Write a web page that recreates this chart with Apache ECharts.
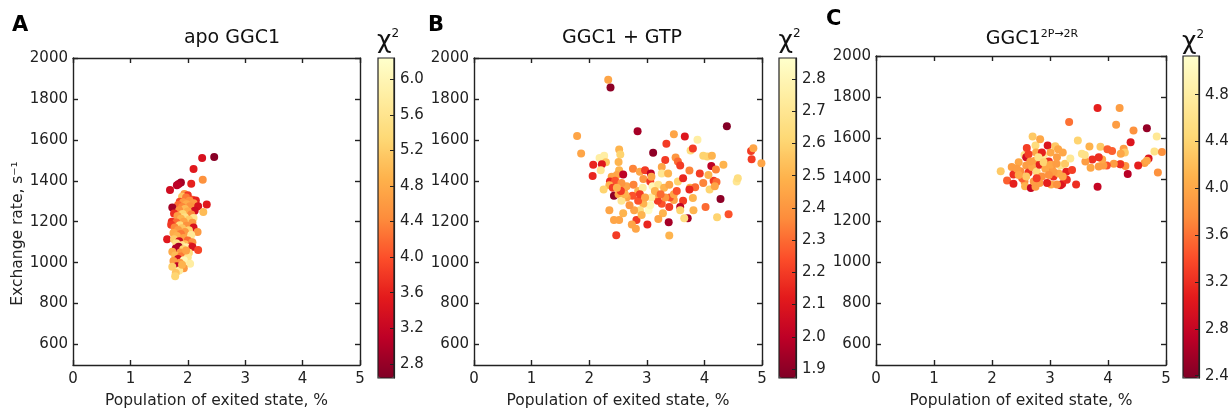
<!DOCTYPE html>
<html><head><meta charset="utf-8">
<script src="https://cdn.jsdelivr.net/npm/echarts@6/dist/echarts.min.js"></script>
<style>html,body{margin:0;padding:0;background:#fff}#c{width:1232px;height:414px}</style>
</head><body><div id="c"></div>
<script>
const xTickValues = [0, 1, 2, 3, 4, 5];
const yTickValues = [600, 800, 1000, 1200, 1400, 1600, 1800, 2000];

// [population %, exchange rate s^-1, chi^2]
const apoPoints = [
[2.46,1516,2.7],[2.25,1512,3.4],[2.10,1458,3.5],[2.26,1405,4.5],[2.06,1386,3.6],[1.88,1392,2.9],[1.84,1384,3.0],[1.81,1378,3.1],[1.69,1355,3.3],
[1.94,1335,4.6],[2.00,1330,3.8],[1.90,1322,5.1],[1.97,1318,4.3],[2.08,1308,4.0],[2.14,1304,3.6],[2.03,1302,4.5],[1.86,1298,3.9],[1.92,1295,4.6],[2.10,1290,4.6],[2.33,1284,3.5],[1.98,1285,4.8],[1.83,1282,4.2],[2.18,1276,3.4],[2.04,1276,4.5],[1.73,1269,2.9],[1.90,1272,4.4],[1.95,1262,5.0],[2.12,1254,3.3],[1.85,1256,4.5],[2.27,1247,5.0],[2.00,1250,4.8],[1.76,1240,3.7],[1.91,1238,5.3],[2.06,1235,4.4],
[1.82,1228,4.6],[1.95,1222,5.5],[2.10,1218,5.6],[1.88,1215,4.9],[2.02,1210,5.2],[1.72,1200,3.7],[1.80,1196,4.2],[1.93,1200,4.7],[2.08,1195,4.6],[1.71,1185,3.8],[1.86,1183,5.4],[1.98,1180,4.5],[2.10,1172,3.4],[1.77,1172,4.4],[1.90,1168,5.1],[2.17,1150,4.6],[1.83,1160,4.6],[2.02,1158,5.3],[1.95,1150,4.6],[1.75,1145,4.8],[1.88,1140,4.3],[2.06,1135,5.7],[1.81,1130,4.9],
[1.64,1114,3.5],[1.93,1120,4.7],[1.76,1115,5.2],[2.00,1108,4.2],[1.85,1105,3.3],[2.08,1100,4.5],[1.80,1095,5.5],[1.95,1090,5.0],[1.89,1085,5.6],[2.05,1080,3.8],[1.84,1078,2.9],[1.98,1075,5.9],[2.08,1077,3.4],[1.79,1069,3.0],[1.92,1065,5.3],[2.18,1062,3.9],[1.73,1053,4.8],[1.87,1050,4.6],[2.02,1048,5.4],[1.95,1040,4.5],
[1.78,1035,5.0],[1.88,1030,4.3],[2.00,1025,5.6],[1.83,1018,3.3],[1.93,1012,6.0],[1.75,1008,4.6],[1.86,1000,4.6],[2.04,995,5.8],[1.81,983,3.1],[1.73,980,5.2],[1.93,973,4.6],[1.85,962,5.7],[1.79,950,5.1],[1.78,934,5.3],[1.90,990,4.9],[1.97,1060,4.7]
];

const gtpPoints = [
[2.33,1894,2.45],[2.37,1856,1.9],[1.79,1619,2.45],[1.86,1533,2.45],[2.84,1642,1.95],[3.11,1537,1.9],[4.39,1667,1.88],[3.47,1627,2.45],[3.66,1616,2.1],[3.88,1600,2.75],[3.34,1581,2.2],[3.76,1548,2.65],[3.80,1558,2.2],
[2.52,1553,2.5],[2.54,1528,2.6],[2.18,1512,2.75],[2.26,1522,2.75],[2.29,1491,2.55],[2.51,1492,2.5],[2.07,1478,2.15],[2.22,1481,2.1],[2.20,1452,2.7],[2.06,1423,2.15],[3.32,1502,2.2],[3.50,1514,2.4],[3.54,1494,2.3],[3.58,1475,2.2],[3.98,1522,2.6],[4.05,1519,2.6],[4.12,1472,2.0],[4.33,1478,2.5],[4.20,1455,2.35],[3.92,1436,2.2],[3.74,1450,2.35],[3.26,1467,2.45],
[2.76,1459,2.35],[2.88,1444,2.45],[2.97,1452,2.2],[3.07,1436,2.0],[3.26,1436,2.7],[3.37,1436,2.5],[2.52,1452,2.5],[2.48,1428,2.45],[2.59,1431,2.0],[2.39,1420,2.45],[2.36,1397,2.15],[2.45,1400,2.25],[2.35,1378,2.5],[2.25,1358,2.6],[2.41,1366,2.2],[2.43,1327,1.9],[2.51,1334,2.45],[2.60,1358,2.3],[2.65,1373,2.45],[2.77,1381,2.35],[2.85,1350,2.5],[2.94,1409,2.4],[2.93,1366,2.75],[3.06,1397,2.2],[3.08,1420,2.45],[3.10,1373,2.8],[3.20,1381,2.7],[3.30,1366,2.5],[3.39,1381,2.45],[3.54,1397,2.6],[3.63,1412,2.15],[3.75,1366,2.5],[3.84,1369,2.3],[4.09,1358,2.6],[4.16,1400,2.2],[4.21,1394,2.3],[4.18,1373,2.45],[4.56,1397,2.7],[4.58,1413,2.65],
[4.81,1545,2.2],[4.85,1559,2.45],[4.82,1505,2.2],[4.99,1486,2.45],[4.28,1311,1.9],[4.42,1237,2.25],[4.22,1222,2.6],[4.02,1272,2.3],[3.80,1316,2.5],[3.74,1358,2.15],[3.63,1303,2.2],[3.58,1272,2.0],[3.58,1256,2.6],[3.71,1217,1.95],[3.65,1217,2.65],[3.81,1256,2.5],[3.47,1306,2.45],[3.40,1319,2.25],[3.39,1272,2.2],[3.38,1197,1.95],[3.39,1133,2.5],[3.28,1241,2.5],[3.20,1213,2.45],[3.26,1288,2.25],[3.19,1303,2.2],[3.32,1319,2.4],[3.17,1334,2.45],[3.08,1319,2.75],[3.03,1256,2.85],[3.06,1280,2.8],[2.94,1288,2.5],[2.88,1256,2.65],[2.85,1303,2.25],[2.82,1209,2.2],[2.74,1186,2.45],[2.81,1166,2.45],[3.01,1186,2.15],[2.91,1233,2.5],[2.78,1256,2.45],[2.70,1280,2.4],[2.75,1327,2.25],[2.65,1319,2.45],[2.56,1303,2.7],[2.62,1334,2.5],[2.55,1350,2.2],[2.59,1241,2.5],[2.52,1209,2.45],[2.43,1209,2.45],[2.35,1256,2.45],[2.47,1134,2.2],[2.56,1389,2.4],[2.48,1366,2.5],[2.88,1334,2.2],[2.97,1319,2.45],[3.14,1350,2.5],[3.24,1334,2.3],[3.47,1334,2.45],[3.52,1350,2.25],[3.98,1389,2.35],[4.07,1428,2.5],[4.13,1522,2.5]
];

const mutPoints = [
[3.82,1748,3.1],[4.20,1748,3.9],[3.33,1680,3.6],[4.14,1666,3.9],[4.67,1649,2.5],[4.44,1638,3.8],[4.84,1609,4.7],[4.39,1581,3.0],[3.48,1590,4.4],[3.68,1561,4.1],[3.87,1559,4.3],[3.99,1547,3.5],[4.07,1539,3.5],[4.27,1550,3.9],[4.29,1531,4.3],[4.22,1526,4.0],[4.80,1537,4.6],[4.93,1534,3.8],[4.70,1503,3.0],[4.63,1481,3.9],[4.67,1492,4.0],[4.52,1469,3.1],[4.86,1435,3.8],[4.34,1427,2.7],[4.30,1466,3.8],[4.22,1475,3.8],[4.21,1474,3.2],[4.10,1477,3.9],[3.98,1469,3.4],[3.92,1469,3.9],[3.84,1464,3.9],[3.90,1497,4.0],[3.84,1508,3.2],[3.73,1497,3.2],[3.61,1488,3.9],[3.70,1457,4.0],[3.55,1526,4.6],[3.60,1520,4.6],[3.45,1376,3.2],[3.82,1365,2.8],
[2.15,1441,4.3],[2.26,1396,3.5],[2.34,1461,3.9],[2.37,1425,3.2],[2.37,1380,3.1],[2.46,1484,4.0],[2.49,1441,3.8],[2.56,1519,4.6],[2.60,1554,3.3],[2.59,1508,2.9],[2.59,1469,3.9],[2.63,1435,3.2],[2.56,1391,3.8],[2.57,1368,4.1],[2.67,1359,2.8],[2.75,1365,3.9],[2.70,1609,4.3],[2.75,1565,4.5],[2.83,1596,4.0],[2.76,1531,4.0],[2.74,1492,3.9],[2.69,1461,4.0],[2.77,1438,4.5],[2.82,1472,3.1],[2.86,1415,3.8],[2.82,1384,3.9],[2.89,1516,4.7],[2.96,1565,3.0],[2.98,1488,3.2],[3.01,1531,4.0],[3.03,1453,3.8],[3.06,1415,3.2],[3.02,1376,4.0],[3.09,1562,4.3],[3.14,1547,4.0],[3.12,1508,3.9],[3.18,1469,4.6],[3.15,1430,4.0],[3.21,1379,3.1],[3.29,1399,3.2],[3.28,1438,3.1],[3.26,1477,4.3],[3.35,1503,4.7],[3.38,1446,3.3],[3.18,1373,3.0],[3.12,1376,3.8],[2.95,1384,3.1],[2.92,1453,4.0],[2.63,1523,3.3],[2.66,1488,3.9],[2.43,1453,3.9],[2.52,1407,3.5],[2.72,1391,3.9],[3.06,1438,3.9],[3.22,1531,4.0],[2.86,1531,3.1],[2.80,1508,4.6],[2.98,1422,3.8],[2.46,1422,4.0],[2.59,1415,4.3],[2.77,1407,3.3],[2.89,1484,4.4],[3.01,1472,4.0],[3.11,1477,3.9],[3.22,1415,4.0]
];

const apoChiTicks = [2.8, 3.2, 3.6, 4.0, 4.4, 4.8, 5.2, 5.6, 6.0];
const gtpChiTicks = [1.9, 2.0, 2.1, 2.2, 2.3, 2.4, 2.5, 2.6, 2.7, 2.8];
const mutChiTicks = [2.4, 2.8, 3.2, 3.6, 4.0, 4.4, 4.8];
const apoChiRange = [2.64, 6.24];
const gtpChiRange = [1.872, 2.865];
const mutChiRange = [2.38, 5.13];
const panelTitles = ['apo GGC1', 'GGC1 + GTP', 'GGC1{sup|2P→2R}'];
const panelLetters = ['A', 'B', 'C'];
const xAxisName = 'Population of exited state, %';
const yAxisName = 'Exchange rate, s⁻¹';

const FONT = 'DejaVu Sans';
const TXT = '#222';
const LINE = '#222';
const cmap = ['#800026','#bd0026','#e31a1c','#fc4e2a','#fd8d3c','#feb24c','#fed976','#ffeda0','#ffffcc'];

const panels = [
  {pts: apoPoints, ticks: apoChiTicks, range: apoChiRange, grid:{left:73,top:58,width:287,height:320}, cb:{left:378,top:58,width:16,height:320}, titleX:232, titleY:38, letterX:12, letterY:26},
  {pts: gtpPoints, ticks: gtpChiTicks, range: gtpChiRange, grid:{left:474,top:58,width:288,height:320}, cb:{left:779,top:58,width:17,height:320}, titleX:622, titleY:38, letterX:428, letterY:26},
  {pts: mutPoints, ticks: mutChiTicks, range: mutChiRange, grid:{left:876,top:56,width:290,height:322}, cb:{left:1183,top:56,width:16,height:322}, titleX:1032, titleY:39, letterX:826, letterY:20}
];

const grid = [], xAxis = [], yAxis = [], series = [], visualMap = [], graphic = [];
const lineStyle = {color: LINE, width: 1.4};
const labelStyle = {color: TXT, fontFamily: FONT, fontSize: 15};

panels.forEach((p, i) => {
  grid.push(Object.assign({}, p.grid, {containLabel: false}));
  grid.push(Object.assign({}, p.cb, {containLabel: false, show: true, borderColor: LINE, borderWidth: 1.2, backgroundColor: 'transparent', z: 10}));
  const g = 2 * i, gc = 2 * i + 1;
  xAxis.push({
    gridIndex: g, type: 'value', min: 0, max: 5, interval: 1,
    axisLine: {show: true, onZero: false, lineStyle},
    axisTick: {show: true, inside: true, length: 5, lineStyle},
    axisLabel: Object.assign({margin: 7, showMinLabel: true, showMaxLabel: true}, labelStyle),
    splitLine: {show: false},
    name: xAxisName, nameLocation: 'middle', nameGap: 28,
    nameTextStyle: {color: TXT, fontFamily: FONT, fontSize: 15.5}
  });
  xAxis.push({
    gridIndex: g, type: 'value', position: 'top', min: 0, max: 5, interval: 1,
    axisLine: {show: true, onZero: false, lineStyle},
    axisTick: {show: true, inside: true, length: 5, lineStyle},
    axisLabel: {show: false}, splitLine: {show: false}
  });
  xAxis.push({gridIndex: gc, type: 'value', min: 0, max: 1, show: false});
  yAxis.push({
    gridIndex: g, type: 'value', min: 500, max: 2000,
    axisLine: {show: true, onZero: false, lineStyle},
    axisTick: {show: true, inside: true, length: 5, lineStyle, customValues: yTickValues},
    axisLabel: Object.assign({margin: 5, customValues: yTickValues, formatter: v => String(v)}, labelStyle),
    splitLine: {show: false},
    name: i === 0 ? yAxisName : '', nameLocation: 'middle', nameGap: 46,
    nameTextStyle: {color: TXT, fontFamily: FONT, fontSize: 15.5, padding: [0, 44, 0, 0]}
  });
  yAxis.push({
    gridIndex: g, type: 'value', position: 'right', min: 500, max: 2000,
    axisLine: {show: true, onZero: false, lineStyle},
    axisTick: {show: true, inside: true, length: 5, lineStyle, customValues: yTickValues},
    axisLabel: {show: false}, splitLine: {show: false}
  });
  yAxis.push({
    gridIndex: gc, type: 'value', position: 'right', min: p.range[0], max: p.range[1], z: 10,
    axisLine: {show: true, onZero: false, lineStyle: {color: LINE, width: 1.2}},
    axisTick: {show: true, inside: true, length: 4, lineStyle: {color: LINE, width: 1}, customValues: p.ticks},
    axisLabel: Object.assign({margin: 6, customValues: p.ticks, formatter: v => Number(v).toFixed(1)}, labelStyle),
    splitLine: {show: false}
  });
  series.push({
    type: 'scatter', xAxisIndex: 3 * i, yAxisIndex: 3 * i, data: p.pts,
    symbolSize: 8, itemStyle: {opacity: 1}, animation: false
  });
  visualMap.push({
    type: 'continuous', seriesIndex: i, dimension: 2, min: p.range[0], max: p.range[1],
    left: p.cb.left, top: p.cb.top, itemWidth: p.cb.width, itemHeight: p.cb.height,
    padding: 0, calculable: false, hoverLink: false, text: null, showLabel: false,
    inRange: {color: cmap}
  });
  graphic.push({type: 'text', x: p.titleX, y: p.titleY, z: 20, style: {
    text: panelTitles[i], fill: '#111', fontFamily: FONT, fontSize: 19, align: 'center', verticalAlign: 'middle',
    rich: {sup: {fontFamily: FONT, fontSize: 11, fill: '#111', padding: [0, 0, 10, 0]}}
  }});
  graphic.push({type: 'text', x: p.letterX, y: p.letterY, z: 20, style: {
    text: panelLetters[i], fill: '#000', fontFamily: FONT, fontSize: 21, fontWeight: 'bold', align: 'left', verticalAlign: 'middle'
  }});
  graphic.push({type: 'text', x: p.cb.left + p.cb.width / 2 + 2, y: p.titleY + 3, z: 20, style: {
    text: '{c|χ}{s|2}', align: 'center', verticalAlign: 'middle',
    rich: {c: {fontFamily: FONT, fontSize: 25, fill: '#111'}, s: {fontFamily: FONT, fontSize: 12, fill: '#111', padding: [0, 0, 14, 0]}}
  }});
});

const chart = echarts.init(document.getElementById('c'), null, {renderer: 'canvas'});
chart.setOption({animation: false, backgroundColor: '#fff', grid, xAxis, yAxis, series, visualMap, graphic});
</script>
</body></html>
